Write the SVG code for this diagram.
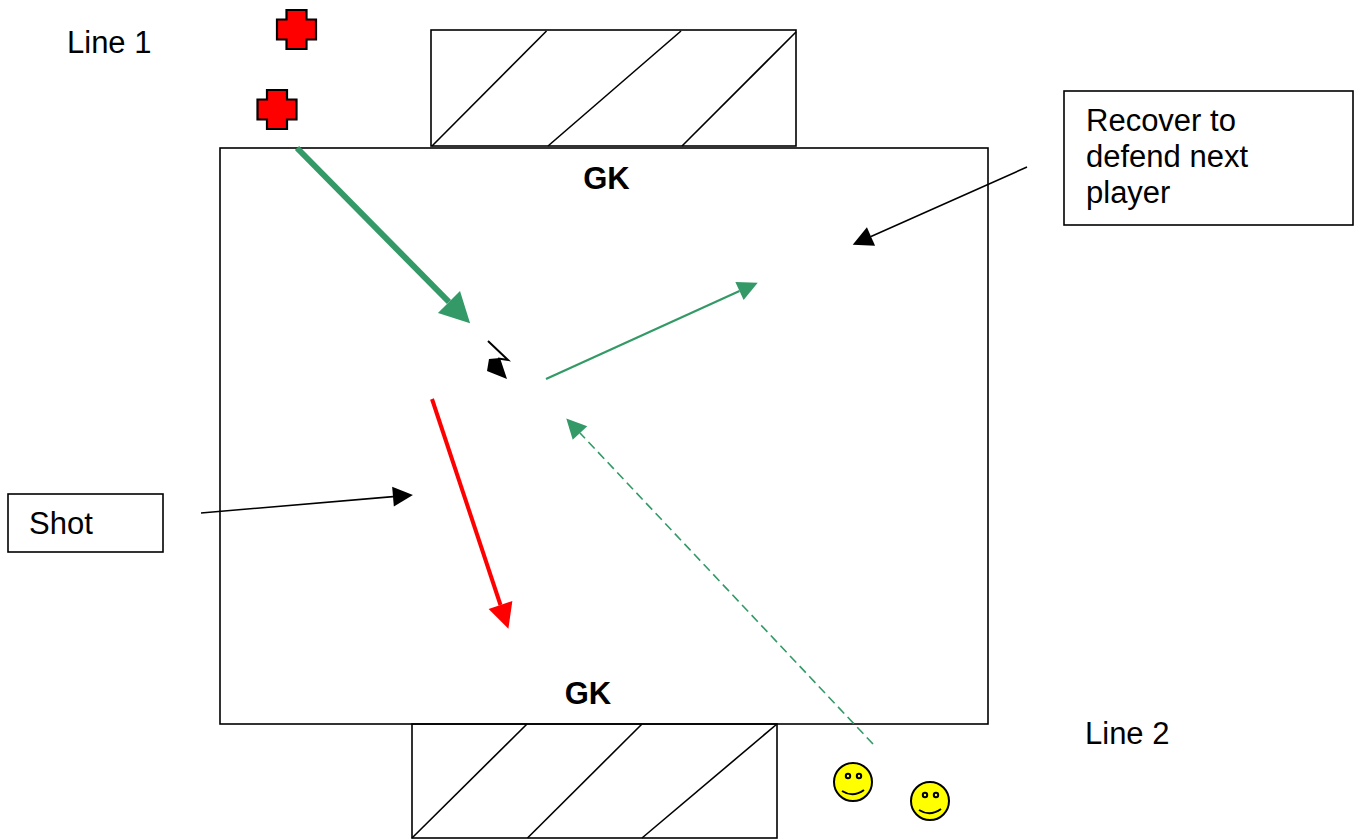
<svg xmlns="http://www.w3.org/2000/svg" xmlns:xlink="http://www.w3.org/1999/xlink" width="1359" height="840" viewBox="0 0 1359 840">
<style>
.box{fill:none;stroke:#000;stroke-width:1.6}
.hatch{stroke:#000;stroke-width:1.6}
.lbl{font-family:"Liberation Sans",Arial,sans-serif;font-size:31px;fill:#000}
.gk{font-family:"Liberation Sans",Arial,sans-serif;font-size:31px;font-weight:bold;fill:#000}
.cross{fill:#ff0000;stroke:#000;stroke-width:2.2;stroke-linejoin:miter}
.face{fill:#ffff00;stroke:#000;stroke-width:2}
.eye{fill:#ffff00;stroke:#000;stroke-width:2}
.smile{fill:none;stroke:#000;stroke-width:2}
.g{stroke:#339966;fill:none}
</style>
<defs>
<marker id="ahGreenBig" markerUnits="userSpaceOnUse" markerWidth="30" markerHeight="31" refX="0" refY="15.5" orient="auto" overflow="visible"><path d="M0,0 L30,15.5 L0,31 Z" fill="#339966"/></marker>
<marker id="ahGreen" markerUnits="userSpaceOnUse" markerWidth="20" markerHeight="20" refX="0" refY="10" orient="auto" overflow="visible"><path d="M0,0 L20,10 L0,20 Z" fill="#339966"/></marker>
<marker id="ahRed" markerUnits="userSpaceOnUse" markerWidth="25" markerHeight="25" refX="0" refY="12.5" orient="auto" overflow="visible"><path d="M0,0 L25,12.5 L0,25 Z" fill="#ff0000"/></marker>
<marker id="ahBlack" markerUnits="userSpaceOnUse" markerWidth="20" markerHeight="20" refX="0" refY="10" orient="auto" overflow="visible"><path d="M0,0 L20,10 L0,20 Z" fill="#000"/></marker>
<path id="crossShape" d="M-10,-19.5 H10 V-10 H19.5 V10 H10 V19.5 H-10 V10 H-19.5 V-10 H-10 Z"/>
<g id="smiley">
<circle class="face" r="19"/>
<circle class="eye" cx="-5" cy="-6" r="2.2"/>
<circle class="eye" cx="6" cy="-6" r="2.2"/>
<path class="smile" d="M-11,9 Q0,16 11,8"/>
</g>
</defs>
<rect width="1359" height="840" fill="#fff"/>

<g id="field">
<rect class="box" x="220" y="148" width="768" height="576"/>
</g>

<g id="goal-top">
<rect class="box" x="431" y="30" width="365" height="116"/>
<line class="hatch" x1="432" y1="146" x2="546.5" y2="31"/>
<line class="hatch" x1="548" y1="146" x2="681" y2="31"/>
<line class="hatch" x1="682" y1="146" x2="796" y2="32"/>
</g>

<g id="goal-bottom">
<rect class="box" x="412" y="724" width="365" height="114"/>
<line class="hatch" x1="412" y1="838" x2="527" y2="724"/>
<line class="hatch" x1="527.5" y1="838" x2="642" y2="724"/>
<line class="hatch" x1="642" y1="838" x2="777" y2="724"/>
</g>

<g id="gk-top"><text class="gk" x="606.5" y="188.5" text-anchor="middle">GK</text></g>
<g id="gk-bottom"><text class="gk" x="588" y="703.5" text-anchor="middle">GK</text></g>

<g id="line1-label"><text class="lbl" x="67" y="52.5">Line 1</text></g>
<g id="line2-label"><text class="lbl" x="1085" y="744">Line 2</text></g>

<g id="player-cross-1"><use xlink:href="#crossShape" href="#crossShape" class="cross" x="296.5" y="29.5"/></g>
<g id="player-cross-2"><use xlink:href="#crossShape" href="#crossShape" class="cross" x="277" y="109.5"/></g>

<g id="player-smiley-1"><use xlink:href="#smiley" href="#smiley" x="853" y="782"/></g>
<g id="player-smiley-2"><use xlink:href="#smiley" href="#smiley" x="930" y="801"/></g>

<g id="recover-box">
<rect class="box" x="1064" y="91" width="289" height="134"/>
<text class="lbl" x="1086" y="131">Recover to</text>
<text class="lbl" x="1086" y="167">defend next</text>
<text class="lbl" x="1086" y="203">player</text>
</g>

<g id="shot-box">
<rect class="box" x="8" y="494" width="155" height="58"/>
<text class="lbl" x="29" y="534">Shot</text>
</g>

<g id="connectors">
<line class="g" x1="297" y1="148" x2="449" y2="302" stroke-width="6" marker-end="url(#ahGreenBig)"/>
<line class="g" x1="546" y1="379" x2="739.5" y2="291" stroke-width="2.2" marker-end="url(#ahGreen)"/>
<line class="g" x1="873" y1="744" x2="580" y2="433" stroke-width="1.6" stroke-dasharray="9,5" marker-end="url(#ahGreen)"/>
<line x1="432" y1="399" x2="500.5" y2="605" stroke="#ff0000" stroke-width="4" marker-end="url(#ahRed)"/>
<line x1="201" y1="513" x2="393" y2="496.6" stroke="#000" stroke-width="1.6" marker-end="url(#ahBlack)"/>
<line x1="1027" y1="167" x2="871" y2="236.5" stroke="#000" stroke-width="1.6" marker-end="url(#ahBlack)"/>
<path d="M488,341 L508,360 L498,358.5" fill="none" stroke="#000" stroke-width="2"/>
<path d="M507,379 L487,371 L489,359 L500,358 Z" fill="#000"/>
</g>
</svg>
